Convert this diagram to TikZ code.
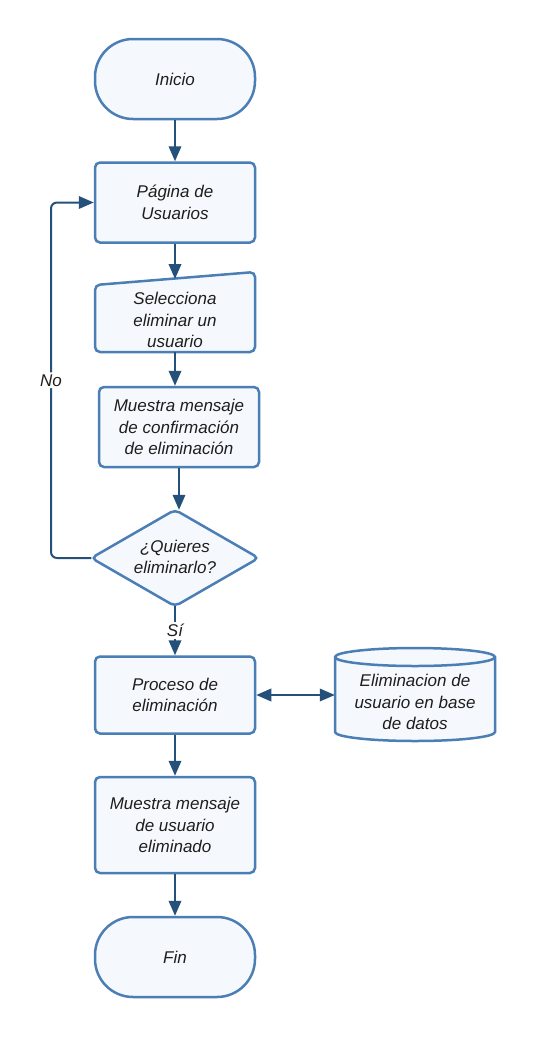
\documentclass[tikz,border=0pt]{standalone}
\usepackage{fontspec}
\setmainfont{Liberation Sans}
\usetikzlibrary{arrows.meta,shapes.geometric}
\definecolor{bord}{HTML}{4A7EB4}
\definecolor{fillc}{HTML}{F5F9FD}
\definecolor{arr}{HTML}{24507A}
\definecolor{txt}{HTML}{1E1E1E}
\begin{document}
\begin{tikzpicture}[x=1pt,y=-1pt,
  every node/.style={font=\fontsize{17}{21.5}\selectfont\itshape, text=txt, align=center},
  box/.style={draw=bord, fill=fillc, line width=2.5pt, rounded corners=5pt, minimum width=160pt, minimum height=80pt, inner sep=0pt},
  term/.style={box, rounded corners=38pt},
  ghost/.style={minimum width=160pt, minimum height=80pt, inner sep=0pt},
  shp/.style={draw=bord, fill=fillc, line width=2.5pt, rounded corners=5pt},
  conn/.style={draw=arr, line width=2pt, -{Triangle[length=15pt,width=12.5pt]}},
  lbl/.style={fill=white, inner sep=2pt}
]
\useasboundingbox (0,0) rectangle (535,1037);

\node[term] (ini) at (175,79) {Inicio};
\node[box] (pag) at (175,202.5) {Página de\\Usuarios};
% manual input
\node[ghost] (sel) at (175,312) {};
\path[shp] (95,285) -- (255,272) -- (255,352) -- (95,352) -- cycle;
\node at (175,320) {Selecciona\\eliminar un\\usuario};
\node[box] (conf) at (179,427) {Muestra mensaje\\de confirmación\\de eliminación};
% decision
\node[minimum width=167pt, minimum height=96pt, inner sep=0pt] (dia) at (175,558) {};
\path[shp] (dia.north) -- (dia.east) -- (dia.south) -- (dia.west) -- cycle;
\node at (175,557) {¿Quieres\\eliminarlo?};
\node[box, minimum height=77pt] (proc) at (175,695) {Proceso de\\eliminación};
% database
\node[minimum width=160pt, minimum height=93pt, inner sep=0pt] (db) at (415,695) {};
\path[shp, rounded corners=0pt] (335,657) -- (335,732) arc[start angle=180, end angle=0, x radius=80, y radius=9] -- (495,657) arc[start angle=0, end angle=-180, x radius=80, y radius=9] -- cycle;
\draw[draw=bord, line width=2.5pt] (335,657) arc[start angle=180, end angle=0, x radius=80, y radius=9];
\node at (415,702) {Eliminacion de\\usuario en base\\de datos};
\node[box, minimum height=96pt] (fin1) at (175,825) {Muestra mensaje\\de usuario\\eliminado};
\node[term] (fin) at (175,957) {Fin};

% connectors
\draw[conn] (ini) -- (pag);
\draw[conn] (pag) -- (175,279);
\draw[conn] (sel.south) -- (sel.south |- conf.north);
\draw[conn] (conf) -- (dia.north -| conf.south);
\draw[conn] (dia.south) -- node[lbl] {Sí} (proc.north);
\draw[conn, rounded corners=6pt] (dia.west) -- (51,558) -- node[lbl, pos=0.5] {No} (51,202.5) -- (pag.west);
\draw[draw=arr, line width=2pt, {Triangle[length=15pt,width=12.5pt]}-{Triangle[length=15pt,width=12.5pt]}] (proc.east) -- (db.west);
\draw[conn] (proc) -- (fin1);
\draw[conn] (fin1) -- (fin);
\end{tikzpicture}
\end{document}
